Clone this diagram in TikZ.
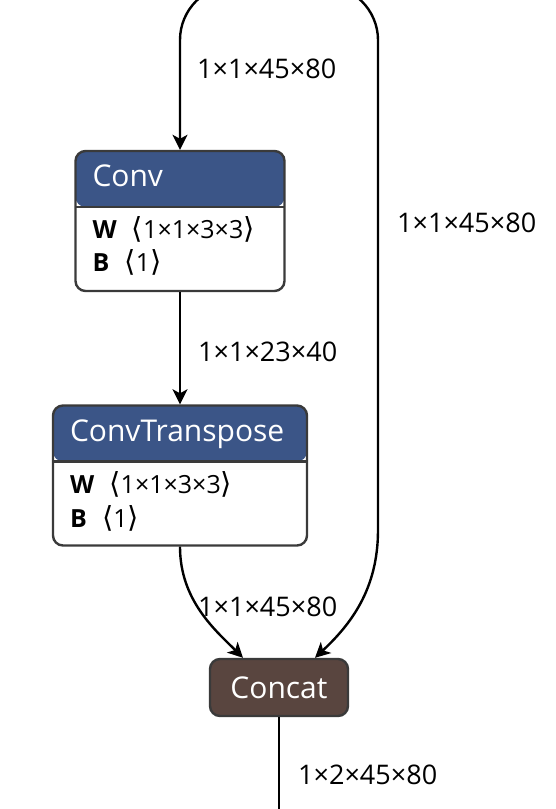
\documentclass[tikz,border=0pt]{standalone}
\usepackage{fontspec}
\setmainfont{Open Sans}
\newfontfamily\brkfont{DejaVu Sans}
\usetikzlibrary{arrows.meta}

\definecolor{opblue}{HTML}{3B5587}
\definecolor{opbrown}{HTML}{59453F}
\definecolor{opline}{HTML}{3A3A3A}

\newcommand{\shp}[1]{\hspace{0.35em}{\brkfont\fontsize{29}{30}\selectfont ⟨}#1{\brkfont\fontsize{29}{30}\selectfont ⟩}}

\begin{document}
\begin{tikzpicture}[
  x=1pt, y=-1pt,
  op/.style={draw=opline, line width=2.4pt, rounded corners=10pt, inner sep=0pt, minimum height=140pt,
    path picture={\fill[opblue] (path picture bounding box.north west) rectangle ([yshift=-56pt]path picture bounding box.north east);
      \draw[opline, line width=2.4pt] ([yshift=-56pt]path picture bounding box.north west) -- ([yshift=-56pt]path picture bounding box.north east);}},
  tensor/.style={draw=opline, fill=opbrown, line width=2.4pt, rounded corners=10pt, inner sep=0pt,
    minimum width=138pt, minimum height=57pt, text=white, font=\fontsize{30}{36}\selectfont},
  title/.style={anchor=base west, inner sep=0pt, text=white, font=\fontsize{30}{36}\selectfont},
  attr/.style={anchor=base west, inner sep=0pt, font=\fontsize{25}{30}\selectfont},
  dim/.style={anchor=west, inner sep=0pt, font=\fontsize{27}{32}\selectfont},
  edge/.style={line width=2.4pt, -{Stealth[length=15pt, width=15pt, inset=4pt]}},
  wire/.style={line width=2.4pt}
]
\useasboundingbox (0,0) rectangle (555,809);
\clip (0,0) rectangle (555,809);

% operators
\node[op, minimum width=209pt] (conv) at (180,221) {};
\node[title] (convname) at ([shift={(18,37)}]conv.north west) {Conv};
\node[attr] (convw) at ([shift={(18,89)}]conv.north west) {\textbf{W}~\shp{1×1×3×3}};
\node[attr] (convb) at ([shift={(18,122)}]conv.north west) {\textbf{B}~\shp{1}};

\node[op, minimum width=254pt] (ct) at (180,475.5) {};
\node[title] (ctname) at ([shift={(18,37)}]ct.north west) {ConvTranspose};
\node[attr] (ctw) at ([shift={(18,89)}]ct.north west) {\textbf{W}~\shp{1×1×3×3}};
\node[attr] (ctb) at ([shift={(18,123)}]ct.north west) {\textbf{B}~\shp{1}};

\node[tensor] (concat) at (279,687.5) {Concat};

% edges
\coordinate (src) at (279,-15);
\coordinate (bend) at (378,530);
\coordinate (out) at (279,820);
\draw[edge, rounded corners=55pt] (src) -| (conv.north);
\draw[edge] (conv.south) -- (ct.north);
\draw[edge] (ct.south) .. controls (180,600) and (215,630) .. ([xshift=-36pt]concat.north);
\draw[edge] (src) -- (323,-15) .. controls (353,-15) and (378,10) .. (378,40) -- (bend)
  .. controls (378,590) and (350,625) .. ([xshift=36pt]concat.north);
\draw[wire] (concat.south) -- (out);

% shapes
\node[dim] (d1) at (197,69) {1×1×45×80};
\node[dim] (d2) at (198,352) {1×1×23×40};
\node[dim] (d3) at (397,223) {1×1×45×80};
\node[dim] (d4) at (198,607) {1×1×45×80};
\node[dim] (d5) at (298,775) {1×2×45×80};
\end{tikzpicture}
\end{document}
